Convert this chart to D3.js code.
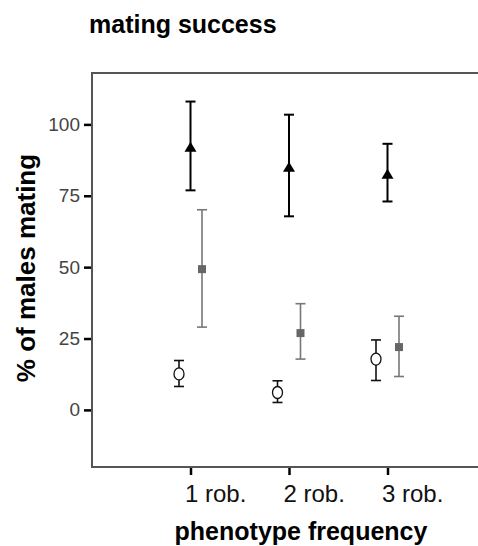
<!DOCTYPE html>
<html>
<head>
<meta charset="utf-8">
<script src="https://cdn.jsdelivr.net/npm/d3@7"></script>
<style>
  body { margin: 0; background: #fff; }
  text { font-family: "Liberation Sans", Arial, sans-serif; }
</style>
</head>
<body>
<div id="chart"></div>
<script>
// groups on the x axis
const groups = ["1 rob.", "2 rob.", "3 rob."];
const yTicks = [0, 25, 50, 75, 100];

// open circles
const circMean = [12.6, 6.1, 17.8];
const circLo   = [8.2, 2.6, 10.3];
const circHi   = [17.3, 10.2, 24.5];
// black triangles
const triMean = [91.8, 84.8, 82.4];
const triLo   = [76.9, 67.8, 73.0];
const triHi   = [108.0, 103.4, 93.2];
// grey squares
const sqMean = [49.3, 26.9, 22.0];
const sqLo   = [29.0, 17.8, 11.7];
const sqHi   = [70.1, 37.2, 32.8];

const WIDTH = 478, HEIGHT = 546;
const LEFT = 92, TOP = 73, BOTTOM = 467, RIGHT = 486;

const svg = d3.select("#chart")
              .append("svg")
              .attr("width", WIDTH)
              .attr("height", HEIGHT);

const x = d3.scalePoint().domain(groups).range([LEFT, RIGHT]).padding(1);
const y = d3.scaleLinear().domain([-20, 118]).range([BOTTOM, TOP]);
// position of each series inside a group
const off = d3.scalePoint().domain(["circle", "triangle", "square"]).range([-11.5, 11.5]);

// frame (left, top, bottom)
svg.append("path")
   .attr("d", `M${RIGHT},${TOP}H${LEFT}V${BOTTOM}H${RIGHT}`)
   .attr("fill", "none")
   .attr("stroke", "#555")
   .attr("stroke-width", 2);

// y axis
const yAxis = svg.append("g")
   .attr("transform", `translate(${LEFT - 1},0)`)
   .call(d3.axisLeft(y).tickValues(yTicks).tickSize(7).tickPadding(4));
yAxis.select(".domain").remove();
yAxis.selectAll(".tick line").attr("stroke", "#000").attr("stroke-width", 2.5);
yAxis.selectAll(".tick text")
     .attr("fill", "#444")
     .style("font-size", "19px");

// x axis
const xAxis = svg.append("g")
   .attr("transform", `translate(0,${BOTTOM + 1})`)
   .call(d3.axisBottom(x).tickSize(7).tickPadding(10));
xAxis.select(".domain").remove();
xAxis.selectAll(".tick line").attr("stroke", "#000").attr("stroke-width", 2.5);
// labels sit to the right of their ticks in the original
xAxis.selectAll(".tick text")
     .attr("text-anchor", "start")
     .attr("dx", -6)
     .attr("fill", "#111")
     .style("font-size", "24px");

// series
const series = [
  { key: "circle",   mean: circMean, lo: circLo, hi: circHi, color: "#111", width: 1.6 },
  { key: "triangle", mean: triMean,  lo: triLo,  hi: triHi,  color: "#000", width: 2 },
  { key: "square",   mean: sqMean,   lo: sqLo,   hi: sqHi,   color: "#777", width: 1.6 }
];

series.forEach(s => {
  const g = svg.append("g");
  const rows = groups.map((grp, i) => ({ grp, m: s.mean[i], lo: s.lo[i], hi: s.hi[i] }));
  const cx = d => x(d.grp) + off(s.key);

  // error bar stem
  g.selectAll("line.stem").data(rows).enter().append("line")
   .attr("x1", cx).attr("x2", cx)
   .attr("y1", d => y(d.lo)).attr("y2", d => y(d.hi))
   .attr("stroke", s.color).attr("stroke-width", s.width);
  // caps
  ["lo", "hi"].forEach(k => {
    g.selectAll("line.cap" + k).data(rows).enter().append("line")
     .attr("x1", d => cx(d) - 5).attr("x2", d => cx(d) + 5)
     .attr("y1", d => y(d[k])).attr("y2", d => y(d[k]))
     .attr("stroke", s.color).attr("stroke-width", s.width);
  });

  // markers
  if (s.key === "triangle") {
    g.selectAll("path.m").data(rows).enter().append("path")
     .attr("d", d => { const px = cx(d), py = y(d.m);
        return `M${px - 6},${py + 4}L${px},${py - 6}L${px + 6},${py + 4}Z`; })
     .attr("fill", "#000");
  } else if (s.key === "square") {
    g.selectAll("rect.m").data(rows).enter().append("rect")
     .attr("x", d => cx(d) - 4).attr("y", d => y(d.m) - 4)
     .attr("width", 8).attr("height", 8)
     .attr("fill", "#666");
  } else {
    g.selectAll("ellipse.m").data(rows).enter().append("ellipse")
     .attr("cx", cx).attr("cy", d => y(d.m))
     .attr("rx", 5).attr("ry", 6)
     .attr("fill", "#fff")
     .attr("stroke", "#111").attr("stroke-width", 1.3);
  }
});

// titles
svg.append("text")
   .attr("x", 89).attr("y", 33)
   .attr("font-weight", "bold").attr("font-size", 25)
   .attr("fill", "#000")
   .text("mating success");

svg.append("text")
   .attr("transform", `translate(35,${(153 + 383) / 2}) rotate(-90)`)
   .attr("text-anchor", "middle")
   .attr("font-weight", "bold").attr("font-size", 26)
   .attr("fill", "#000")
   .text("% of males mating");

svg.append("text")
   .attr("x", 301).attr("y", 540)
   .attr("text-anchor", "middle")
   .attr("font-weight", "bold").attr("font-size", 25)
   .attr("fill", "#000")
   .text("phenotype frequency");
</script>
</body>
</html>
